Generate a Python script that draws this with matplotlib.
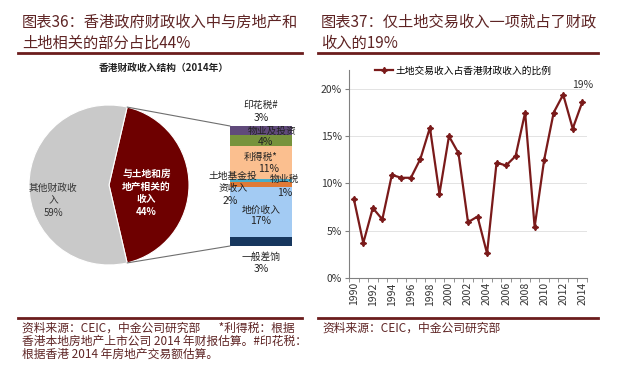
import matplotlib
matplotlib.use("Agg")
import matplotlib.pyplot as plt
import numpy as np
from matplotlib.lines import Line2D
from matplotlib.patches import ConnectionPatch
from matplotlib.ticker import FuncFormatter

plt.rcParams["font.family"] = ["Noto Sans CJK SC", "DejaVu Sans"]

# ---- data ----
pie_labels = ["与土地和房\n地产相关的\n收入", "其他财政收\n入"]
pie_values = [44, 59]

bar_labels = ["一般差饷", "地价收入", "土地基金投\n资收入", "物业税", "利得税*", "物业及投资", "印花税#"]
bar_values = [3, 17, 2, 1, 11, 4, 3]

years = list(range(1990, 2015))
land_share = [8.4, 3.7, 7.4, 6.2, 10.9, 10.6, 10.6, 12.6, 15.9, 8.9,
              15.0, 13.2, 5.9, 6.5, 2.6, 12.2, 11.9, 12.9, 17.5, 5.4,
              12.5, 17.5, 19.4, 15.8, 18.6]

TITLE_C = "#5e2424"
RULE_C = "#6b1d1d"
LINE_C = "#7a1a1a"
bar_colors = ["#17375e", "#a3cbf3", "#e07a36", "#4bacc6", "#fbbf8f", "#77933c", "#604a7b"]

W, H = 640, 375
fig = plt.figure(figsize=(W / 100, H / 100), dpi=100)


def px_axes(x, y, w, h):
    # axes from pixel box (top-left origin)
    return fig.add_axes([x / W, (H - y - h) / H, w / W, h / H])


def fx(x):
    return x / W


def fy(y):
    return (H - y) / H


# ---- titles and rules ----
title_kw = dict(color=TITLE_C, fontsize=11, va="center", ha="left")
fig.text(fx(22), fy(22), "图表36：香港政府财政收入中与房地产和", **title_kw)
fig.text(fx(22), fy(43), "土地相关的部分占比44%", **title_kw)
fig.text(fx(321), fy(22), "图表37：仅土地交易收入一项就占了财政", **title_kw)
fig.text(fx(321), fy(43), "收入的19%", **title_kw)

for x0, x1 in [(18, 302), (318, 598)]:
    for y in (53, 318):
        fig.add_artist(Line2D([fx(x0), fx(x1)], [fy(y), fy(y)], color=RULE_C, lw=2))

note_kw = dict(color=TITLE_C, fontsize=8.5, va="center", ha="left")
fig.text(fx(22), fy(328), "资料来源：CEIC，中金公司研究部       *利得税：根据", **note_kw)
fig.text(fx(22), fy(341), "香港本地房地产上市公司 2014 年财报估算。#印花税：", **note_kw)
fig.text(fx(22), fy(354), "根据香港 2014 年房地产交易额估算。", **note_kw)
fig.text(fx(322), fy(328), "资料来源：CEIC，中金公司研究部", **note_kw)

# ---- pie ----
fig.text(fx(164), fy(68), "香港财政收入结构（2014年）", fontsize=7, fontweight="bold",
         ha="center", va="center", color="#222222")

ax_pie = px_axes(29, 105, 160, 160)
share = pie_values[0] / sum(pie_values)
start = -180 * share
wedges, _ = ax_pie.pie(pie_values, colors=["#6e0000", "#c9c9c9"], startangle=start,
                       counterclock=True, wedgeprops=dict(edgecolor="white", linewidth=0.8))
ax_pie.set_xlim(-1, 1)
ax_pie.set_ylim(-1, 1)
ax_pie.set_aspect("equal")

ax_pie.text(0.47, -0.1, f"{pie_labels[0]}\n{pie_values[0]}%", color="white", fontsize=7,
            fontweight="bold", ha="center", va="center", linespacing=1.35)
ax_pie.text(-0.70, -0.19, f"{pie_labels[1]}\n{pie_values[1]}%", color="#333333", fontsize=7,
            ha="center", va="center", linespacing=1.35)

# ---- stacked bar ----
ax_bar = px_axes(230, 126, 62, 120)
total = sum(bar_values)
bottoms = np.concatenate([[0], np.cumsum(bar_values)[:-1]])
ax_bar.bar([0.5] * len(bar_values), bar_values, bottom=bottoms, width=1.0,
           color=bar_colors, edgecolor="none")
ax_bar.set_xlim(0, 1)
ax_bar.set_ylim(0, total)
ax_bar.axis("off")

mids = bottoms + np.array(bar_values) / 2
lab_kw = dict(fontsize=7, ha="center", va="center", color="#222222", clip_on=False, linespacing=1.3)
pct_kw = dict(fontsize=7.5, ha="center", va="center", color="#222222", clip_on=False)

# 一般差饷 below the bar
ax_bar.text(0.5, -3.8, bar_labels[0], **lab_kw)
ax_bar.text(0.5, -7.8, f"{bar_values[0]}%", **pct_kw)
# 地价收入
ax_bar.text(0.5, mids[1] + 1.0, bar_labels[1], **lab_kw)
ax_bar.text(0.5, mids[1] - 2.8, f"{bar_values[1]}%", **pct_kw)
# 土地基金投资收入 (left of bar)
ax_bar.text(0.05, mids[2] + 0.9, bar_labels[2], **lab_kw)
ax_bar.text(0.0, mids[2] - 5.6, f"{bar_values[2]}%", **pct_kw)
# 物业税 (right)
ax_bar.text(0.88, mids[3] + 0.3, bar_labels[3], **lab_kw)
ax_bar.text(0.88, mids[3] - 4.5, f"{bar_values[3]}%", **pct_kw)
# 利得税
ax_bar.text(0.5, mids[4] + 2.0, bar_labels[4], **lab_kw)
ax_bar.text(0.62, mids[4] - 2.1, f"{bar_values[4]}%", **pct_kw)
# 物业及投资
ax_bar.text(0.68, mids[6] - 0.2, bar_labels[5], **lab_kw)
ax_bar.text(0.58, mids[5] - 0.4, f"{bar_values[5]}%", **pct_kw)
# 印花税 above the bar
ax_bar.text(0.5, total + 7.2, bar_labels[6], **lab_kw)
ax_bar.text(0.5, total + 2.8, f"{bar_values[6]}%", **pct_kw)

# connector lines from the wedge edges to the bar corners
for ang, ybar in [(start + 360 * share, total), (start, 0)]:
    th = np.deg2rad(ang)
    con = ConnectionPatch(xyA=(np.cos(th), np.sin(th)), coordsA=ax_pie.transData,
                          xyB=(0, ybar), coordsB=ax_bar.transData,
                          color="#6f6f6f", lw=0.8)
    fig.add_artist(con)

# ---- line chart ----
ax = px_axes(349, 70, 238, 208)
xs = np.arange(len(years))
ax.plot(xs, land_share, color=LINE_C, lw=1.6, marker=(4, 1, 0), markersize=4.5,
        label="土地交易收入占香港财政收入的比例")
ax.set_xlim(-0.5, len(years) - 0.5)
ax.set_ylim(0, 22)
ax.set_yticks([0, 5, 10, 15, 20])
ax.yaxis.set_major_formatter(FuncFormatter(lambda v, _: f"{v:.0f}%"))
ax.set_xticks(xs[::2])
ax.set_xticklabels([str(y) for y in years[::2]], rotation=90)
ax.set_xticks(np.arange(-0.5, len(years), 1), minor=True)
ax.tick_params(axis="x", which="major", length=0, labelsize=7.5, colors="#333333", pad=3)
ax.tick_params(axis="x", which="minor", length=3, color="#808080")
ax.tick_params(axis="y", length=3, labelsize=7.5, colors="#333333", color="#808080", pad=2)
ax.grid(axis="y", color="#e3e3e3", lw=0.7)
ax.set_axisbelow(True)
for s in ("top", "right"):
    ax.spines[s].set_visible(False)
for s in ("left", "bottom"):
    ax.spines[s].set_color("#808080")
    ax.spines[s].set_linewidth(0.8)

ax.annotate(f"{land_share[-1]:.0f}%", xy=(xs[-1], land_share[-1]), xytext=(0, 9),
            textcoords="offset points", ha="center", va="bottom", fontsize=7.5, color="#333333")
leg = ax.legend(loc="upper center", bbox_to_anchor=(0.48, 1.04), frameon=False, fontsize=7,
                handlelength=1.8, handletextpad=0.3, borderaxespad=0)

fig.savefig("out.png", dpi=100)
